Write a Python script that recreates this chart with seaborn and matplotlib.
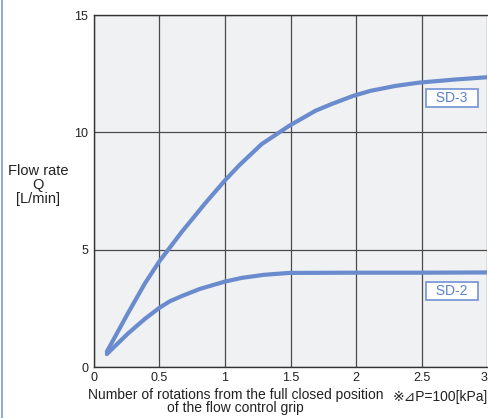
import pandas as pd
import matplotlib.pyplot as plt
from matplotlib.lines import Line2D
import seaborn as sns

# rotations of the flow control grip vs flow rate
sd3_x = [0.1, 0.26, 0.39, 0.5, 0.67, 0.85, 1.0, 1.11, 1.28, 1.49, 1.69, 1.81, 1.98, 2.11, 2.3, 2.48, 2.75, 3.0]
sd3_q = [0.65, 2.28, 3.56, 4.5, 5.75, 6.98, 7.95, 8.6, 9.5, 10.28, 10.92, 11.2, 11.56, 11.77, 11.98, 12.12, 12.25, 12.35]

sd2_x = [0.1, 0.26, 0.39, 0.5, 0.58, 0.67, 0.81, 1.0, 1.13, 1.3, 1.49, 2.0, 2.5, 3.0]
sd2_q = [0.55, 1.42, 2.05, 2.52, 2.8, 3.02, 3.33, 3.64, 3.8, 3.93, 4.01, 4.02, 4.02, 4.03]

x_ticks = [0, 0.5, 1, 1.5, 2, 2.5, 3]
x_tick_labels = ['0', '0.5', '1', '1.5', '2', '2.5', '3']
y_ticks = [0, 5, 10, 15]

line_color = '#6a8bcd'
text_color = '#5a82c8'
dark = '#222222'

sns.set_style('white')
plt.rcParams['font.family'] = ['Liberation Sans', 'DejaVu Sans']

df = pd.concat([
    pd.DataFrame({'rot': sd3_x, 'q': sd3_q, 'model': 'SD-3'}),
    pd.DataFrame({'rot': sd2_x, 'q': sd2_q, 'model': 'SD-2'}),
])

fig = plt.figure(figsize=(4.89, 4.18), dpi=100)
ax = fig.add_axes([0.1916, 0.122, 0.805, 0.842])
ax.set_facecolor('#f0f1f3')

for m in ['SD-3', 'SD-2']:
    sub = df[df['model'] == m]
    sns.lineplot(data=sub, x='rot', y='q', ax=ax, color=line_color, linewidth=3.0,
                 solid_capstyle='round', solid_joinstyle='round', zorder=3, legend=False)

ax.set_xlim(0, 3)
ax.set_ylim(0, 15)
ax.set_xticks(x_ticks)
ax.set_xticklabels(x_tick_labels)
ax.set_yticks(y_ticks)
ax.tick_params(axis='x', length=0, labelsize=9, colors=dark, pad=3.5)
ax.tick_params(axis='y', length=0, labelsize=9, colors=dark, pad=4)
ax.get_xticklabels()[-1].set_ha('right')
ax.grid(True, color='#4a4a4a', linewidth=0.9, zorder=1)
ax.set_axisbelow(True)
for s in ['left', 'bottom', 'top']:
    ax.spines[s].set_color('#333333')
    ax.spines[s].set_linewidth(1.0)
ax.spines['right'].set_visible(False)

ax.set_xlabel('Number of rotations from the full closed position\nof the flow control grip',
              fontsize=10, color=dark, linespacing=0.88)
ax.xaxis.set_label_coords(0.361, -0.06)
ax.xaxis.label.set_va('top')
ax.set_ylabel('')
fig.text(0.078, 0.557, 'Flow rate\nQ\n[L/min]', ha='center', va='center',
         fontsize=10.5, color=dark, linespacing=0.98)

fig.text(0.998, 0.050, '※⊿P=100[kPa]', ha='right', va='center',
         fontsize=10, color=dark)

box = dict(boxstyle='square,pad=0.15', facecolor='white', edgecolor='#7b9ad6', linewidth=1.3)
ax.text(2.73, 11.45, '  SD-3  ', ha='center', va='center', fontsize=10, color=text_color,
        bbox=box, zorder=5)
ax.text(2.73, 3.23, '  SD-2  ', ha='center', va='center', fontsize=10, color=text_color,
        bbox=box, zorder=5)

fig.add_artist(Line2D([0.005, 0.005], [0, 1], transform=fig.transFigure,
                      color='#7a9ad6', linewidth=1.2))

fig.savefig('out.png', dpi=100)
